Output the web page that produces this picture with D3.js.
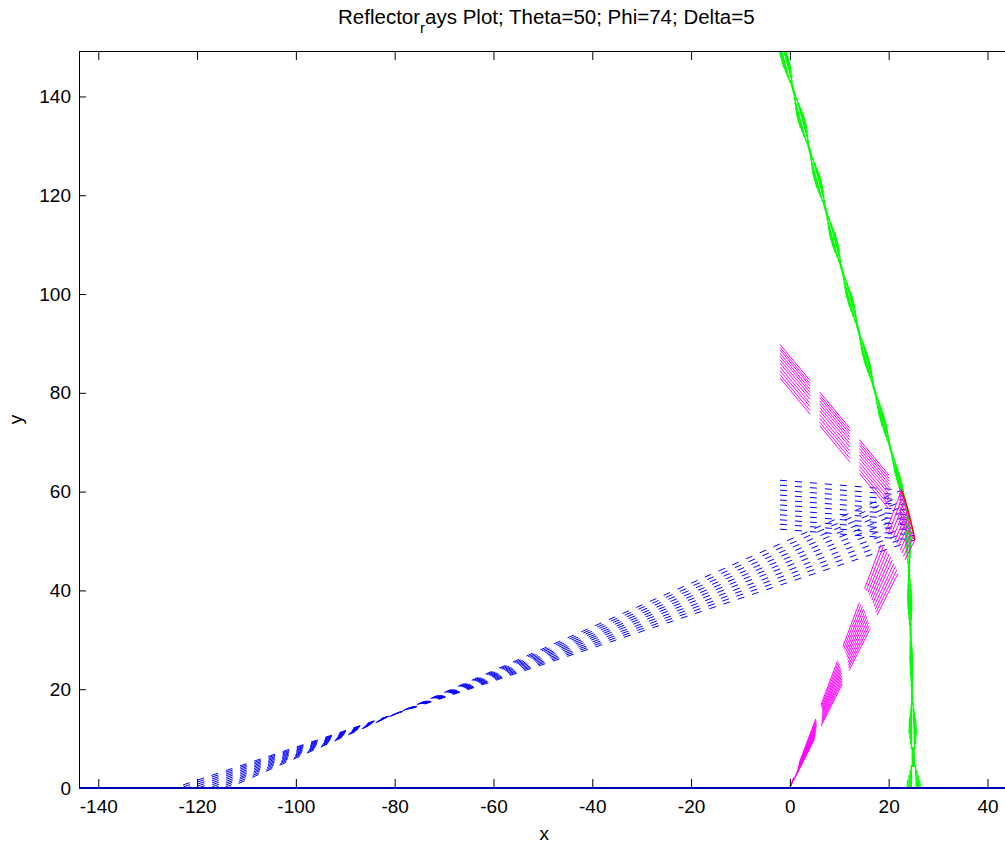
<!DOCTYPE html>
<html>
<head>
<meta charset="utf-8">
<script src="https://cdn.jsdelivr.net/npm/d3@7"></script>
<style>
  html, body { margin: 0; padding: 0; background: #fff; }
  svg { display: block; }
  text { font-family: "Liberation Sans", Arial, Helvetica, sans-serif; fill: #000; }
</style>
</head>
<body>
<svg id="chart" width="1005" height="845"></svg>
<script>
// Reflector contour points (ray hit points), top to bottom
const reflX = [22.6, 22.95, 23.3, 23.6, 23.9, 24.15, 24.4, 24.65, 24.9, 25.1, 25.3];
const reflY = [60.3, 59.3, 58.3, 57.3, 56.3, 55.3, 54.3, 53.2, 52.2, 51.2, 50.2];

// Blue rays: aperture end at x = -2, foot on the ground line y = 0
const blueApertureX = -2;
const blueApertureY = [62.3, 61.3, 60.3, 59.3, 58.3, 57.3, 56.3, 55.3, 54.3, 53.4, 52.4];
const blueFootX = [-113.7, -114.6, -115.6, -116.5, -117.5, -118.6, -119.7, -120.9, -122.1, -123.4, -124.7];

// Magenta rays: feed at the origin, reflected bundle ends at x = -2
const feedX = 0, feedY = 0;
const magentaApertureX = -2;
const magentaApertureY = [89.8, 89.2, 88.7, 88.0, 87.4, 86.7, 86.0, 85.2, 84.5, 83.7, 83.0];

// Green parent-surface traces: top, knee, lower and base points
const greenTopY = 152;
const greenTopX = [-2.9, -2.75, -2.6, -2.45, -2.3, -2.2, -2.1, -1.95, -1.8, -1.65, -1.5];
const greenKneeX = [23.2, 23.32, 23.44, 23.56, 23.68, 23.8, 23.92, 24.04, 24.16, 24.28, 24.4];
const greenKneeY = [57.0, 56.8, 56.6, 56.4, 56.2, 56.0, 55.8, 55.6, 55.4, 55.2, 55.0];
const greenLowY = 22;
const greenLowX = [24.5, 24.55, 24.6, 24.6, 24.65, 24.7, 24.7, 24.75, 24.8, 24.8, 24.85];
const greenBaseX = [23.8, 24.1, 24.35, 24.6, 24.85, 25.1, 25.35, 25.6, 25.85, 26.1, 26.4];

// Axis ticks and limits
const xTicks = [-140, -120, -100, -80, -60, -40, -20, 0, 20, 40];
const yTicks = [0, 20, 40, 60, 80, 100, 120, 140];
const xLimits = [-143.9, 44.5];
const yLimits = [0, 149.2];
const groundX = [-143.9, 44.5];

const titleMain = "Reflector";
const titleSub = "r";
const titleRest = "ays Plot; Theta=50; Phi=74; Delta=5";

// ---------------------------------------------------------------
const svg = d3.select("#chart");
const plot = { left: 79, top: 51, right: 79 + (xLimits[1] - xLimits[0]) * 4.94, bottom: 788 };

const x = d3.scaleLinear().domain(xLimits).range([plot.left, plot.right]);
const y = d3.scaleLinear().domain(yLimits).range([plot.bottom, plot.top]);

svg.append("defs").append("clipPath").attr("id", "plotClip")
  .append("rect")
  .attr("x", plot.left).attr("y", plot.top)
  .attr("width", plot.right - plot.left).attr("height", plot.bottom - plot.top);

const line = d3.line().x(d => x(d[0])).y(d => y(d[1]));
const data = svg.append("g").attr("clip-path", "url(#plotClip)");
const idx = d3.range(reflX.length);

// Blue rays
data.append("g").selectAll("path").data(idx).join("path")
  .attr("d", i => line([[blueApertureX, blueApertureY[i]], [reflX[i], reflY[i]], [blueFootX[i], 0]]))
  .attr("fill", "none").attr("stroke", "#0000ff").attr("stroke-width", 1)
  .attr("stroke-dasharray", "7,8");

// Green traces: long dashes, outer traces with shorter dashes so each
// dash group tapers; the central traces are staggered by half a period.
const period = 62;
function greenDash(i) {
  const u = Math.abs(i - 5) / 5;
  const central = u < 0.3;
  const d = central ? 20 : 46 - 30 * (u - 0.4) / 0.6;
  const centre = central ? 31 + 24 : 24;
  return { array: `${d.toFixed(1)},${(period - d).toFixed(1)}`, offset: d / 2 - centre };
}
data.append("g").selectAll("path").data(idx).join("path")
  .attr("d", i => line([[greenTopX[i], greenTopY], [greenKneeX[i], greenKneeY[i]],
                        [greenLowX[i], greenLowY], [greenBaseX[i], 0]]))
  .attr("fill", "none").attr("stroke", "#00ff00").attr("stroke-width", 1.4)
  .attr("stroke-dasharray", i => greenDash(i).array)
  .attr("stroke-dashoffset", i => greenDash(i).offset);

// Magenta rays
data.append("g").selectAll("path").data(idx).join("path")
  .attr("d", i => line([[magentaApertureX, magentaApertureY[i]], [reflX[i], reflY[i]], [feedX, feedY]]))
  .attr("fill", "none").attr("stroke", "#ff00ff").attr("stroke-width", 1)
  .attr("stroke-dasharray", "47,15");

// Reflector contour
data.append("path")
  .attr("d", line(idx.map(i => [reflX[i], reflY[i]])))
  .attr("fill", "none").attr("stroke", "#ff0000").attr("stroke-width", 1.5);

// Axes box and ticks
const fmt = d => String(d);
const axes = svg.append("g");
axes.append("line").attr("x1", plot.left).attr("x2", plot.right)
  .attr("y1", plot.top + 0.5).attr("y2", plot.top + 0.5).attr("stroke", "#000");
axes.append("line").attr("x1", plot.left + 0.5).attr("x2", plot.left + 0.5)
  .attr("y1", plot.top).attr("y2", plot.bottom).attr("stroke", "#000");

const gx = axes.append("g").attr("transform", `translate(0,${plot.bottom})`)
  .call(d3.axisBottom(x).tickValues(xTicks).tickSize(-9).tickPadding(12).tickFormat(fmt));
const gxTop = axes.append("g").attr("transform", `translate(0,${plot.top})`)
  .call(d3.axisTop(x).tickValues(xTicks).tickSize(-9).tickFormat(""));
const gy = axes.append("g").attr("transform", `translate(${plot.left},0)`)
  .call(d3.axisLeft(y).tickValues(yTicks).tickSize(-7).tickPadding(8).tickFormat(fmt));
[gx, gxTop, gy].forEach(g => {
  g.select(".domain").remove();
  g.selectAll("text").attr("font-size", 19).attr("font-family", "Liberation Sans, Arial, sans-serif").attr("fill", "#000");
  g.selectAll("line").attr("stroke", "#000");
});

// Ground line y = 0
svg.append("path")
  .attr("d", line([[groundX[0], 0], [groundX[1], 0]]))
  .attr("stroke", "#0000b4").attr("stroke-width", 2).attr("fill", "none");

// Axis labels
svg.append("text").attr("x", (plot.left + plot.right) / 2).attr("y", 840)
  .attr("text-anchor", "middle").attr("font-size", 19).text("x");
svg.append("text").attr("transform", `translate(22,${(plot.top + plot.bottom) / 2}) rotate(-90)`)
  .attr("text-anchor", "middle").attr("font-size", 19).text("y");

// Title with TeX-style subscript
const title = svg.append("text").attr("x", (plot.left + plot.right) / 2 + 2).attr("y", 24)
  .attr("text-anchor", "middle").attr("font-size", 20.5);
title.append("tspan").text(titleMain);
title.append("tspan").attr("font-size", 15).attr("dy", 9).text(titleSub);
title.append("tspan").attr("dy", -9).text(titleRest);
</script>
</body>
</html>
